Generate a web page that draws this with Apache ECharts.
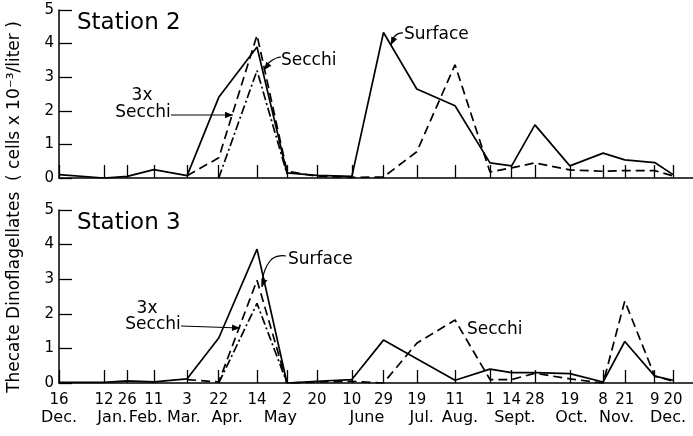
<!DOCTYPE html>
<html><head><meta charset="utf-8">
<script src="https://cdn.jsdelivr.net/npm/echarts@6/dist/echarts.min.js"></script>
<style>html,body{margin:0;padding:0;background:#fff}#c{width:693px;height:436px}</style>
</head><body><div id="c"></div>
<script>
const startDate = '1960-12-16';
const axisEndDate = '1962-01-01';
const sampleDates = ['1960-12-16','1961-01-12','1961-01-26','1961-02-11','1961-03-03','1961-03-22','1961-04-14','1961-05-02','1961-05-20','1961-06-10','1961-06-29','1961-07-19','1961-08-11','1961-09-01','1961-09-14','1961-09-28','1961-10-19','1961-11-08','1961-11-21','1961-12-09','1961-12-20'];
const dayLabels = ['16','12','26','11','3','22','14','2','20','10','29','19','11','1','14','28','19','8','21','9','20'];
const monthLabels = ['Dec.','Jan.','Feb.','Mar.','Apr.','May','June','Jul.','Aug.','Sept.','Oct.','Nov.','Dec.'];
const monthLabelDates = ['1960-12-16','1961-01-17','1961-02-06','1961-03-01','1961-03-27','1961-04-28','1961-06-19','1961-07-22','1961-08-14','1961-09-16','1961-10-20','1961-11-16','1961-12-17'];
const yTicks = [0,1,2,3,4,5];

// Station 2
const st2Surface  = [0.1,0.0,0.05,0.25,0.07,2.4,3.9,0.15,0.08,0.05,4.33,2.65,2.15,0.45,0.36,1.58,0.36,0.74,0.54,0.46,0.1];
const st2Secchi   = [null,null,null,null,0.07,0.6,4.25,0.2,0.05,0.02,0.03,0.78,3.37,0.18,0.3,0.45,0.24,0.2,0.22,0.22,0.06];
const st2Secchi3x = [null,null,null,null,null,0.0,3.2,0.12,null,null,null,null,null,null,null,null,null,null,null,null,null];
// Station 3
const st3Surface  = [0.02,0.02,0.06,0.03,0.12,1.3,3.87,0.0,0.05,0.1,1.24,0.7,0.08,0.4,0.3,0.3,0.27,0.03,1.2,0.2,0.08];
const st3Secchi   = [null,null,null,null,0.1,0.03,2.97,0.0,0.03,0.05,0.0,1.15,1.82,0.1,0.1,0.28,0.12,0.0,2.37,0.2,0.05];
const st3Secchi3x = [null,null,null,null,null,0.0,2.3,0.0,null,null,null,null,null,null,null,null,null,null,null,null,null];

const FONT = '"DejaVu Sans", sans-serif';
const dayNum = s => Math.round((Date.parse(s + 'T00:00:00Z') - Date.parse(startDate + 'T00:00:00Z')) / 86400000);
const sampleDays = sampleDates.map(dayNum);
const monthDays = monthLabelDates.map(dayNum);
const dayLabelMap = {}; sampleDays.forEach((d, i) => dayLabelMap[d] = dayLabels[i]);
const monthLabelMap = {}; monthDays.forEach((d, i) => monthLabelMap[d] = monthLabels[i]);
const pts = arr => sampleDays.map((d, i) => [d, arr[i]]).filter(p => p[1] !== null);

const solid = {color: '#000', width: 1.7, type: 'solid'};
const dashed = {color: '#000', width: 1.7, type: [9, 5]};
const dashDot = {color: '#000', width: 1.7, type: [9, 3, 2, 3]};

function xAxisMain(gi, showLabels) {
  return {
    type: 'value', gridIndex: gi, min: 0, max: dayNum(axisEndDate),
    axisLine: {show: true, onZero: false, lineStyle: {color: '#000', width: 1.5}},
    axisTick: {show: true, inside: true, length: 13, customValues: sampleDays, lineStyle: {color: '#000', width: 1.3}},
    axisLabel: {show: showLabels, customValues: sampleDays, margin: 10, color: '#000', fontFamily: FONT, fontSize: 15,
      formatter: v => dayLabelMap[Math.round(v)] || ''},
    splitLine: {show: false}
  };
}
function xAxisMonths(gi) {
  return {
    type: 'value', gridIndex: gi, min: 0, max: dayNum(axisEndDate), position: 'bottom', offset: 17,
    axisLine: {show: false}, axisTick: {show: false}, splitLine: {show: false},
    axisLabel: {show: true, customValues: monthDays, margin: 10, color: '#000', fontFamily: FONT, fontSize: 16,
      formatter: v => monthLabelMap[Math.round(v)] || ''}
  };
}
function yAxis(gi) {
  return {
    type: 'value', gridIndex: gi, min: 0, max: 5, interval: 1,
    axisLine: {show: true, lineStyle: {color: '#000', width: 1.5}},
    axisTick: {show: true, inside: true, length: 13, lineStyle: {color: '#000', width: 1.3}},
    axisLabel: {margin: 5, color: '#000', fontFamily: FONT, fontSize: 15, formatter: v => yTicks.includes(v) ? String(v) : ''},
    splitLine: {show: false}
  };
}
function line(xi, yi, arr, ls) {
  return {type: 'line', xAxisIndex: xi, yAxisIndex: yi, data: pts(arr), symbol: 'none', lineStyle: ls, silent: true, animation: false};
}

function arrowHead(tip, from, len = 8, half = 3.2) {
  const a = Math.atan2(tip[1] - from[1], tip[0] - from[0]);
  const bx = tip[0] - len * Math.cos(a), by = tip[1] - len * Math.sin(a);
  const px = -Math.sin(a) * half, py = Math.cos(a) * half;
  return {type: 'polygon', shape: {points: [tip, [bx + px, by + py], [bx - px, by - py]]}, style: {fill: '#000'}, silent: true};
}
function arrow(points, smooth) {
  const n = points.length;
  return [
    {type: 'polyline', shape: {points: points, smooth: smooth || 0}, style: {stroke: '#000', lineWidth: 1.2, fill: null}, silent: true},
    arrowHead(points[n - 1], points[n - 2])
  ];
}
function txt(x, y, text, size, align) {
  return {type: 'text', x: x, y: y, style: {text: text, fill: '#000', font: size + 'px ' + FONT, textAlign: align || 'left', textVerticalAlign: 'middle'}, silent: true};
}

const graphics = [].concat(
  [{type: 'text', x: 15, y: 207, rotation: Math.PI / 2,
    style: {text: 'Thecate Dinoflagellates  ( cells x 10\u207B\u00B3/liter )', fill: '#000', font: '17px ' + FONT, textAlign: 'center', textVerticalAlign: 'middle'}, silent: true}],
  [txt(77, 23, 'Station 2', 23), txt(77, 223, 'Station 3', 23)],
  [txt(281, 61, 'Secchi', 17), ...arrow([[281, 57], [271, 61], [264, 70]], 0.6)],
  [txt(404, 35, 'Surface', 17), ...arrow([[403, 33], [395, 36], [391, 45]], 0.6)],
  [txt(142, 96, '3x', 17, 'center'), txt(143, 113, 'Secchi', 17, 'center'), ...arrow([[171, 115], [233, 115]])],
  [txt(288, 260, 'Surface', 17), ...arrow([[286, 256], [270, 261], [262, 287]], 0.6)],
  [txt(147, 309, '3x', 17, 'center'), txt(153, 325, 'Secchi', 17, 'center'), ...arrow([[181, 326], [240, 328]])],
  [txt(467, 330, 'Secchi', 17)]
);

const chart = echarts.init(document.getElementById('c'), null, {renderer: 'canvas'});
chart.setOption({
  animation: false,
  backgroundColor: '#fff',
  grid: [
    {left: 59, right: 0, top: 10, height: 168, containLabel: false},
    {left: 59, right: 0, top: 210, height: 173, containLabel: false}
  ],
  xAxis: [xAxisMain(0, false), xAxisMain(1, true), xAxisMonths(1)],
  yAxis: [yAxis(0), yAxis(1)],
  series: [
    line(0, 0, st2Surface, solid), line(0, 0, st2Secchi, dashed), line(0, 0, st2Secchi3x, dashDot),
    line(1, 1, st3Surface, solid), line(1, 1, st3Secchi, dashed), line(1, 1, st3Secchi3x, dashDot)
  ],
  graphic: graphics
});
</script></body></html>
